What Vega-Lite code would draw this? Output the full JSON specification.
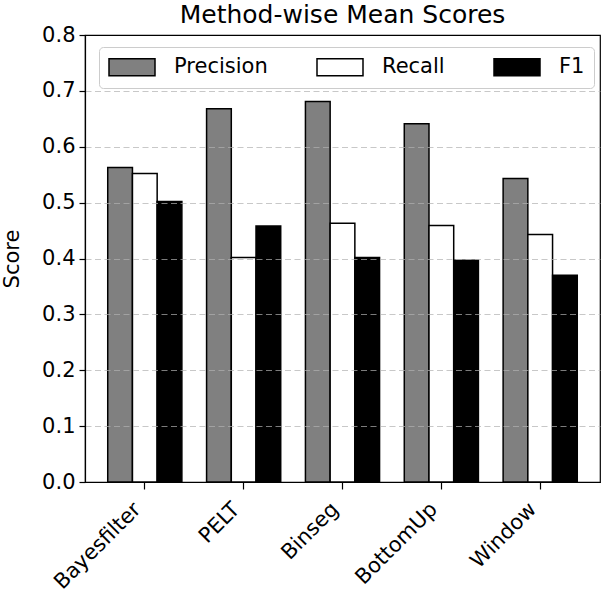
{
  "$schema": "https://vega.github.io/schema/vega-lite/v6.json",
  "width": 515,
  "height": 447,
  "autosize": {"type": "none"},
  "padding": {"left": 85, "top": 35, "right": 6, "bottom": 118},
  "title": {
    "text": "Method-wise Mean Scores",
    "frame": "group",
    "anchor": "middle",
    "offset": -4,
    "font": "DejaVu Sans",
    "fontSize": 25,
    "fontWeight": "normal",
    "color": "black"
  },
  "data": {
    "values": [
      {"method": "Bayesfilter", "metric": "Precision", "score": 0.563},
      {"method": "Bayesfilter", "metric": "Recall", "score": 0.552},
      {"method": "Bayesfilter", "metric": "F1", "score": 0.502},
      {"method": "PELT", "metric": "Precision", "score": 0.668},
      {"method": "PELT", "metric": "Recall", "score": 0.402},
      {"method": "PELT", "metric": "F1", "score": 0.458},
      {"method": "Binseg", "metric": "Precision", "score": 0.681},
      {"method": "Binseg", "metric": "Recall", "score": 0.463},
      {"method": "Binseg", "metric": "F1", "score": 0.402},
      {"method": "BottomUp", "metric": "Precision", "score": 0.641},
      {"method": "BottomUp", "metric": "Recall", "score": 0.459},
      {"method": "BottomUp", "metric": "F1", "score": 0.397},
      {"method": "Window", "metric": "Precision", "score": 0.543},
      {"method": "Window", "metric": "Recall", "score": 0.443},
      {"method": "Window", "metric": "F1", "score": 0.370}
    ]
  },
  "mark": {"type": "bar", "stroke": "black", "strokeWidth": 1.5},
  "encoding": {
    "x": {
      "field": "method",
      "type": "nominal",
      "sort": ["Bayesfilter", "PELT", "Binseg", "BottomUp", "Window"],
      "scale": {"paddingInner": 0.25, "paddingOuter": 0.23},
      "axis": {
        "title": null,
        "labelAngle": -45,
        "labelAlign": "right",
        "labelBaseline": "bottom",
        "tickSize": 7,
        "labelPadding": 24,
        "zindex": 1
      }
    },
    "xOffset": {
      "field": "metric",
      "type": "nominal",
      "sort": ["Precision", "Recall", "F1"],
      "scale": {"paddingInner": 0, "paddingOuter": 0}
    },
    "y": {
      "field": "score",
      "type": "quantitative",
      "scale": {"domain": [0, 0.8], "nice": false, "zero": true},
      "axis": {
        "title": "Score",
        "values": [0, 0.1, 0.2, 0.3, 0.4, 0.5, 0.6, 0.7, 0.8],
        "format": ".1f",
        "grid": true,
        "gridDash": [6, 3.5],
        "gridColor": "#b0b0b0",
        "gridWidth": 1.2,
        "gridOpacity": {"condition": {"test": "datum.value <= 0 || datum.value >= 0.8", "value": 0}, "value": 0.7},
        "tickSize": 6,
        "labelPadding": 4,
        "titlePadding": 19,
        "zindex": 1
      }
    },
    "color": {
      "field": "metric",
      "type": "nominal",
      "sort": ["Precision", "Recall", "F1"],
      "scale": {"domain": ["Precision", "Recall", "F1"], "range": ["#808080", "#ffffff", "#000000"]},
      "legend": {
        "title": null,
        "orient": "none",
        "legendX": 14,
        "legendY": 12,
        "direction": "horizontal",
        "columns": 3,
        "symbolType": "M-1,-0.85H3.6V0.85H-1Z",
        "symbolSize": 400,
        "symbolStrokeColor": "black",
        "symbolStrokeWidth": 1.5,
        "symbolOpacity": 1,
        "labelFont": "DejaVu Sans",
        "labelFontSize": 21,
        "labelColor": "black",
        "labelOffset": 44,
        "columnPadding": 46,
        "padding": 9,
        "strokeColor": "#cccccc",
        "fillColor": "rgba(255,255,255,0.8)",
        "cornerRadius": 4,
        "zindex": 2
      }
    }
  },
  "config": {
    "view": {"stroke": "black", "strokeWidth": 1.2},
    "axis": {
      "domainColor": "black",
      "domainWidth": 1.2,
      "tickColor": "black",
      "tickWidth": 1.2,
      "labelColor": "black",
      "labelFont": "DejaVu Sans",
      "labelFontSize": 21,
      "titleFont": "DejaVu Sans",
      "titleFontSize": 21,
      "titleFontWeight": "normal",
      "titleColor": "black"
    }
  }
}
